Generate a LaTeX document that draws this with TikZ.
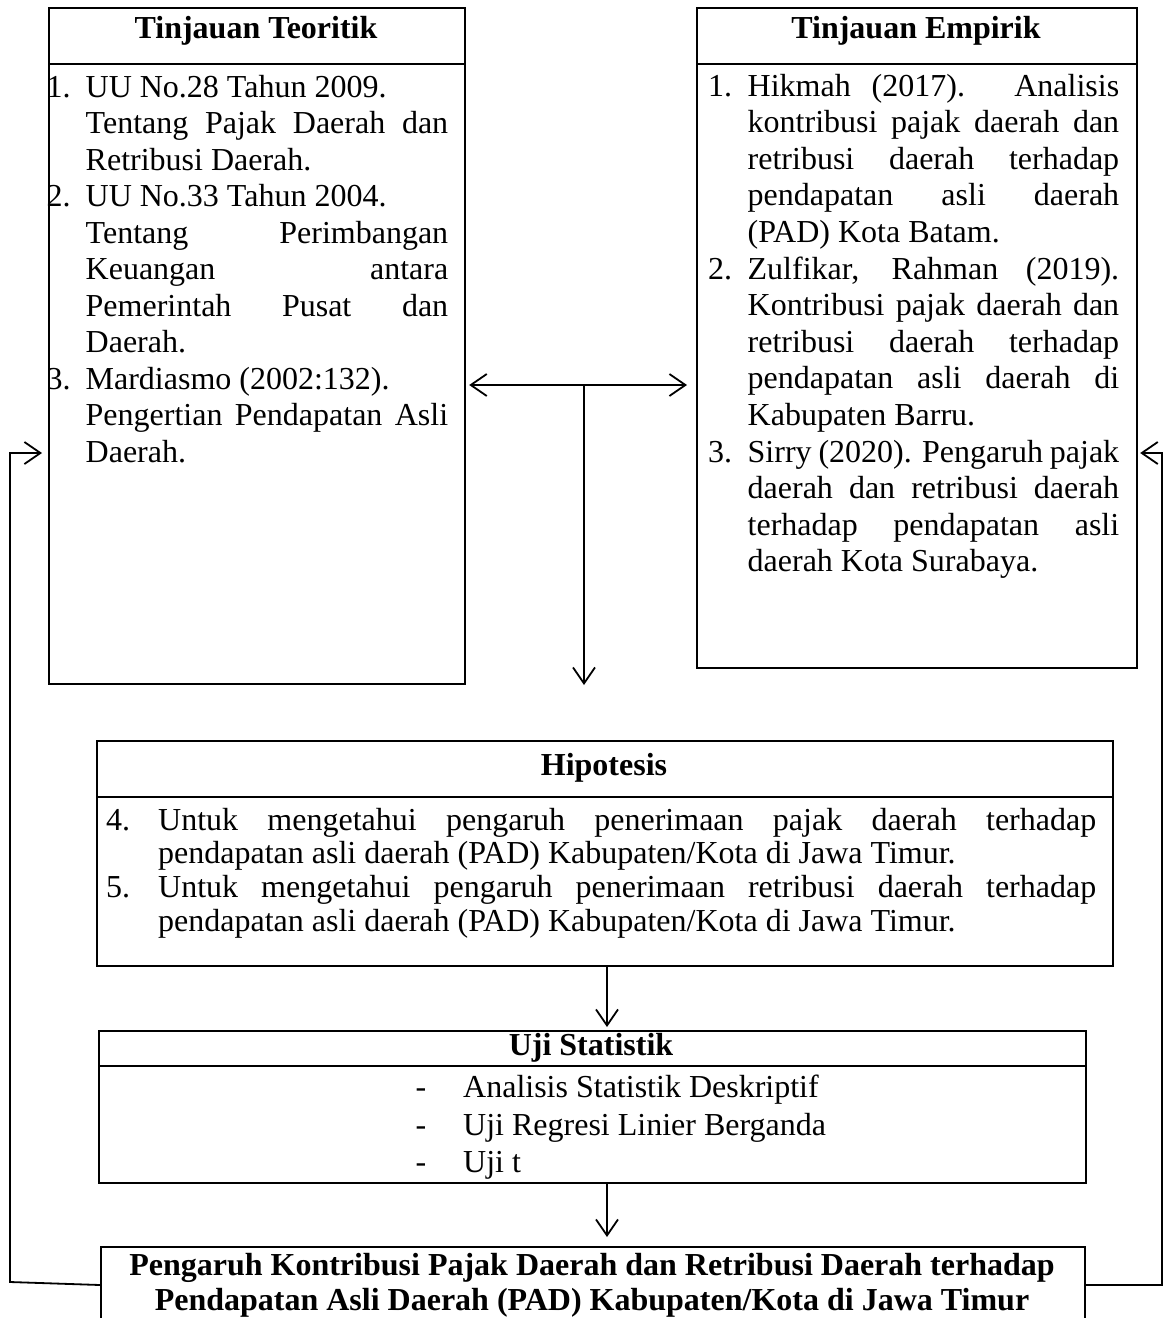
\documentclass[tikz,border=0pt]{standalone}
\usepackage{fontspec}
\setmainfont{Liberation Serif}
\usetikzlibrary{arrows.meta,calc}
\newcommand\mybody[1]{\fontsize{32}{#1}\selectfont\tolerance=10000\hyphenpenalty=10000\exhyphenpenalty=10000\parindent=0pt\emergencystretch=0pt}
\begin{document}
\begin{tikzpicture}[x=1pt,y=-1pt,
  >={Straight Barb[length=16pt,width=22pt]},
  box/.style={draw, line width=2.2pt, inner sep=0pt, anchor=north west},
  hline/.style={line width=2.2pt},
  arr/.style={line width=1.8pt,->},
  darr/.style={line width=1.8pt,<->},
  txt/.style={inner sep=0pt, anchor=base west, font=\fontsize{32}{36}\selectfont},
  head/.style={inner sep=0pt, anchor=base, font=\bfseries\fontsize{32}{36}\selectfont},
]
\clip (0,0) rectangle (1163,1318);
\fill[white] (0,0) rectangle (1163,1318);

% boxes
\node[box, minimum width=416pt, minimum height=676pt] (L) at (48,7) {};
\node[box, minimum width=440pt, minimum height=660pt] (R) at (696,7) {};
\node[box, minimum width=1016pt, minimum height=225pt] (H) at (96,740) {};
\node[box, minimum width=987pt, minimum height=152pt] (U) at (98,1030) {};
\node[box, minimum width=984pt, minimum height=110pt] (F) at (100,1246) {};

% header separators
\draw[hline] (L.west |- 0,64) -- (L.east |- 0,64);
\draw[hline] (R.west |- 0,64) -- (R.east |- 0,64);
\draw[hline] (H.west |- 0,797) -- (H.east |- 0,797);
\draw[hline] (U.west |- 0,1066) -- (U.east |- 0,1066);

% headers
\node[head] (Lh) at (256,38) {Tinjauan Teoritik};
\node[head] (Rh) at (916,38) {Tinjauan Empirik};
\node[head] (Hh) at (604,775) {Hipotesis};
\node[head] (Uh) at (591,1055) {Uji Statistik};
\node[head] (F1) at (592,1275) {Pengaruh Kontribusi Pajak Daerah dan Retribusi Daerah terhadap};
\node[head] (F2) at (592,1310) {Pendapatan Asli Daerah (PAD) Kabupaten/Kota di Jawa Timur};

% left body
\node[txt] (Lb) at (46.5,97) {\begin{minipage}[t]{401.5pt}\mybody{36.5}%
\hangindent=39pt\hangafter=1\noindent\makebox[39pt][l]{1.}UU No.28 Tahun 2009.\newline Tentang Pajak Daerah dan\linebreak Retribusi Daerah.\par
\hangindent=39pt\hangafter=1\noindent\makebox[39pt][l]{2.}UU No.33 Tahun 2004.\newline Tentang Perimbangan\linebreak Keuangan antara\linebreak Pemerintah Pusat dan\linebreak Daerah.\par
\hangindent=39pt\hangafter=1\noindent\makebox[39pt][l]{3.}Mardiasmo (2002:132).\newline Pengertian Pendapatan Asli\linebreak Daerah.\par
\end{minipage}};

% right body
\node[txt] (Rb) at (708,96) {\begin{minipage}[t]{411pt}\mybody{36.6}%
\hangindent=39.5pt\hangafter=1\noindent\makebox[39.5pt][l]{1.}Hikmah (2017). Analisis\linebreak kontribusi pajak daerah dan\linebreak retribusi daerah terhadap\linebreak pendapatan asli daerah\linebreak (PAD) Kota Batam.\par
\hangindent=39.5pt\hangafter=1\noindent\makebox[39.5pt][l]{2.}Zulfikar, Rahman (2019).\linebreak Kontribusi pajak daerah dan\linebreak retribusi daerah terhadap\linebreak pendapatan asli daerah di\linebreak Kabupaten Barru.\par
\hangindent=39.5pt\hangafter=1\noindent\makebox[39.5pt][l]{3.}Sirry (2020). Pengaruh pajak\linebreak daerah dan retribusi daerah\linebreak terhadap pendapatan asli\linebreak daerah Kota Surabaya.\par
\end{minipage}};

% hipotesis body
\node[txt] (Hb) at (106,830) {\begin{minipage}[t]{990pt}\mybody{33.8}%
\hangindent=52pt\hangafter=1\noindent\makebox[52pt][l]{4.}Untuk mengetahui pengaruh penerimaan pajak daerah terhadap\linebreak pendapatan asli daerah (PAD) Kabupaten/Kota di Jawa Timur.\par
\hangindent=52pt\hangafter=1\noindent\makebox[52pt][l]{5.}Untuk mengetahui pengaruh penerimaan retribusi daerah terhadap\linebreak pendapatan asli daerah (PAD) Kabupaten/Kota di Jawa Timur.\par
\end{minipage}};

% uji statistik items
\node[txt] (U1) at (415.5,1097) {\makebox[47.5pt][l]{-}Analisis Statistik Deskriptif};
\node[txt] (U2) at (415.5,1135) {\makebox[47.5pt][l]{-}Uji Regresi Linier Berganda};
\node[txt] (U3) at (415.5,1172) {\makebox[47.5pt][l]{-}Uji t};

% connectors
\coordinate (T) at (584,385);
\draw[darr, shorten <=3pt, shorten >=9pt] (L.east |- T) -- (R.west |- T);
\draw[arr, shorten >=55pt] (T) -- (T |- H.north);
\coordinate (a1) at (607,0);
\draw[arr, shorten >=3pt] (H.south -| a1) -- (U.north -| a1);
\draw[arr, shorten >=9pt] (U.south -| a1) -- (F.north -| a1);

% feedback lines
\coordinate (fl1) at (10,1282);
\coordinate (fl2) at (10,453);
\draw[arr, shorten >=6pt] (F.west |- 0,1285) -- (fl1) -- (fl2) -- (L.west |- fl2);
\coordinate (fr1) at (1162,1285);
\coordinate (fr2) at (1162,453);
\draw[arr, shorten >=2pt] (F.east |- fr1) -- (fr1) -- (fr2) -- (R.east |- fr2);
\end{tikzpicture}
\end{document}
